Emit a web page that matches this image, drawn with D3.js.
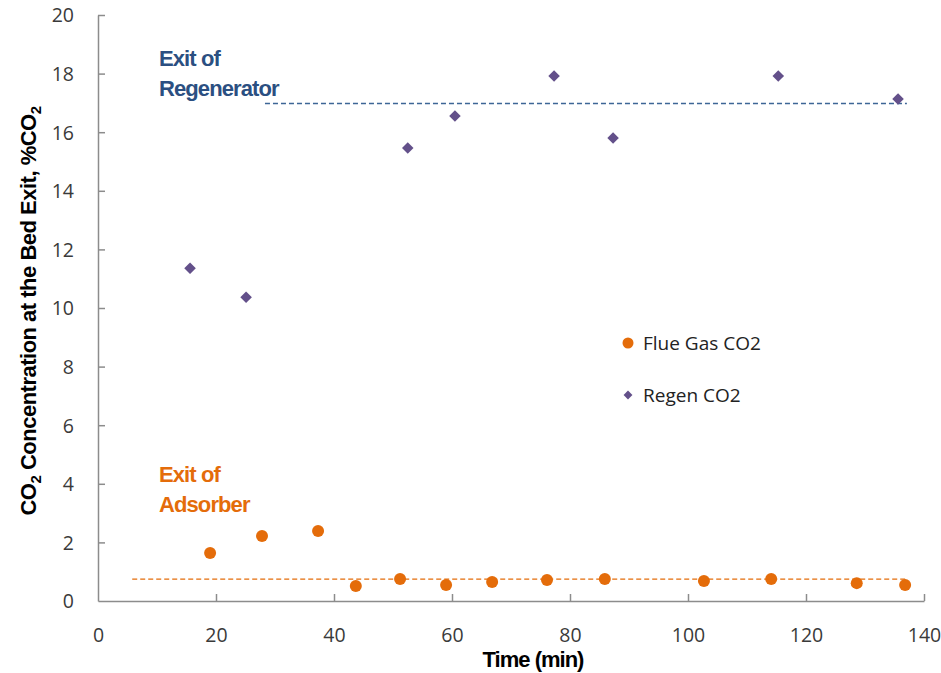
<!DOCTYPE html>
<html>
<head>
<meta charset="utf-8">
<script src="https://cdn.jsdelivr.net/npm/d3@7"></script>
<style>
  body { margin: 0; background: #fff; }
  .tick text { font-family: "Open Sans", "Noto Sans", sans-serif; font-size: 19.5px; fill: #3a3a3a; }
  .title { font-family: "Liberation Sans", Arial, sans-serif; font-weight: bold; font-size: 22px; fill: #000; letter-spacing: -1px; }
  .ytitle { letter-spacing: -0.5px; }
  .note { font-family: "Liberation Sans", Arial, sans-serif; font-weight: bold; font-size: 22px; letter-spacing: -0.9px; }
  .legend { font-family: "Open Sans", "Noto Sans", sans-serif; font-size: 19px; fill: #222; }
</style>
</head>
<body>
<svg width="941" height="673"></svg>
<script>
// Flue gas CO2 at the exit of the adsorber
const flueTime = [19.0, 27.8, 37.3, 43.7, 51.2, 59.0, 66.8, 76.1, 85.9, 102.7, 114.1, 128.6, 136.8];
const flueCO2 = [1.64, 2.22, 2.39, 0.51, 0.75, 0.55, 0.65, 0.72, 0.75, 0.68, 0.75, 0.61, 0.55];

// Regenerator CO2
const regenTime = [15.6, 25.1, 52.5, 60.5, 77.3, 87.3, 115.3, 135.6];
const regenCO2 = [11.36, 10.37, 15.46, 16.55, 17.92, 15.8, 17.92, 17.13];

// dashed reference levels: [x start, x end, value]
const flueLevel = [5.8, 136.8, 0.75];
const regenLevel = [28.3, 137.1, 16.98];

const xTicks = [0, 20, 40, 60, 80, 100, 120, 140];
const yTicks = [0, 2, 4, 6, 8, 10, 12, 14, 16, 18, 20];

const orange = "#e46c0a", purple = "#63508a", navy = "#2b4f81";

let svg = d3.select("svg");

let x = d3.scaleLinear().domain([0, 140]).range([98, 924]);
let y = d3.scaleLinear().domain([0, 20]).range([601, 15]);

// axes
let xAxis = svg.append("g")
	.attr("transform", "translate(0," + y(0) + ")")
	.call(d3.axisBottom(x).tickValues(xTicks).tickSize(-7).tickPadding(34).tickSizeOuter(0));
let yAxis = svg.append("g")
	.attr("transform", "translate(" + x(0) + ",0)")
	.call(d3.axisLeft(y).tickValues(yTicks).tickSize(-7).tickPadding(24).tickSizeOuter(0));

[xAxis, yAxis].forEach(function (a) {
	a.select(".domain").attr("stroke", "#8c8c8c").attr("stroke-width", 1.5);
	a.selectAll(".tick line").attr("stroke", "#8c8c8c").attr("stroke-width", 1.5);
});
xAxis.selectAll(".tick").filter(function (d) { return d === 0; }).select("line").remove();
yAxis.selectAll(".tick").filter(function (d) { return d === 0; }).select("line").remove();
yAxis.selectAll(".tick text").attr("dy", "0.35em");
xAxis.selectAll(".tick text").attr("dy", "0.35em");

// dashed levels
svg.append("line")
	.attr("x1", x(flueLevel[0])).attr("x2", x(flueLevel[1]))
	.attr("y1", y(flueLevel[2])).attr("y2", y(flueLevel[2]))
	.attr("stroke", orange).attr("stroke-width", 1.3).attr("stroke-dasharray", "5,3");
svg.append("line")
	.attr("x1", x(regenLevel[0])).attr("x2", x(regenLevel[1]))
	.attr("y1", y(regenLevel[2])).attr("y2", y(regenLevel[2]))
	.attr("stroke", "#3d6696").attr("stroke-width", 1.3).attr("stroke-dasharray", "5,3");

// points
svg.append("g").selectAll("circle")
	.data(flueTime)
	.enter().append("circle")
	.attr("cx", function (d) { return x(d); })
	.attr("cy", function (d, i) { return y(flueCO2[i]); })
	.attr("r", 6)
	.attr("fill", orange);

let diamond = d3.symbol().type(d3.symbolDiamond2).size(85);
svg.append("g").selectAll("path")
	.data(regenTime)
	.enter().append("path")
	.attr("d", diamond)
	.attr("transform", function (d, i) {
		return "translate(" + x(d) + "," + y(regenCO2[i]) + ")";
	})
	.attr("fill", purple);

// annotations
let noteTop = svg.append("text").attr("class", "note").attr("fill", navy);
noteTop.append("tspan").attr("x", 159).attr("y", 66).text("Exit of");
noteTop.append("tspan").attr("x", 159).attr("y", 96).text("Regenerator");
let noteBot = svg.append("text").attr("class", "note").attr("fill", orange);
noteBot.append("tspan").attr("x", 159).attr("y", 482).text("Exit of");
noteBot.append("tspan").attr("x", 159).attr("y", 512).text("Adsorber");

// legend
svg.append("circle").attr("cx", 628).attr("cy", 343).attr("r", 5.5).attr("fill", orange);
svg.append("text").attr("class", "legend").attr("x", 643).attr("y", 343).attr("dy", "0.35em").text("Flue Gas CO2");
svg.append("path").attr("d", d3.symbol().type(d3.symbolDiamond2).size(50))
	.attr("transform", "translate(628,395)").attr("fill", purple);
svg.append("text").attr("class", "legend").attr("x", 643).attr("y", 395).attr("dy", "0.35em").text("Regen CO2");

// axis titles
svg.append("text").attr("class", "title")
	.attr("x", 533).attr("y", 667).attr("text-anchor", "middle")
	.text("Time (min)");

let yt = svg.append("text").attr("class", "title ytitle")
	.attr("transform", "translate(36,311) rotate(-90)")
	.attr("text-anchor", "middle");
yt.append("tspan").text("CO");
yt.append("tspan").attr("font-size", "15px").attr("dy", 5).text("2");
yt.append("tspan").attr("dy", -5).text(" Concentration at the Bed Exit, %CO");
yt.append("tspan").attr("font-size", "15px").attr("dy", 5).text("2");
</script>
</body>
</html>
